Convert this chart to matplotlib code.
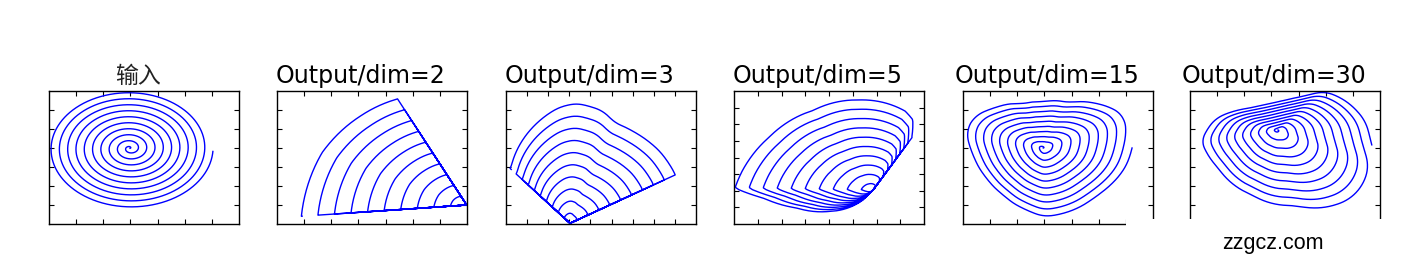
import numpy as np
import matplotlib
matplotlib.use('Agg')
import matplotlib.pyplot as plt
from matplotlib.patches import Rectangle

plt.rcParams['font.family'] = ['DejaVu Sans', 'Noto Sans CJK SC']

# panel titles and tick intervals (x, y)
titles = ['输入', 'Output/dim=2', 'Output/dim=3', 'Output/dim=5', 'Output/dim=15', 'Output/dim=30']
tick_steps = [(7, 7), (7, 7), (9, 7), (8, 8), (7, 7), (7, 7)]

# number of spiral turns (same trajectory fed to every net)
turns = 10

# all shapes below are read off the picture, in axes pixels (190 x 133)
# input spiral: centre, radii, end angle
input_centre = (81, 75.7)
input_radii = (83, 60)
input_end = -3

# dim=2: folded into a wedge around an apex
dim2_apex = (189.7, 19)
dim2_wedge = (123.1, 183.9)
dim2_angles = [123.1, 140, 160, 183.9]
dim2_radii = [129, 140.5, 155, 166]
dim2_end = 190

# dim=3
dim3_apex = (64, 0.7)
dim3_wedge = (24.7, 137.5)
dim3_angles = [24.7, 38.5, 55.4, 66, 74, 86.8, 95, 100, 112, 125, 137.5]
dim3_radii = [120.2, 118.7, 114.5, 112.6, 119.5, 122.1, 118.3, 114.1, 103.4, 91.8, 80.7]
dim3_end = 150

# dim=5
dim5_apex = (139.3, 34.3)
dim5_wedge = (53.4, 225)
dim5_angles = [53.4, 60.6, 68, 99.6, 127.4, 153.4, 171.9, 179.3, 184.3, 193.4, 206.5, 225]
dim5_radii = [67.7, 84.3, 88.8, 94.4, 102.5, 119.3, 134.6, 140.3, 111.8, 79.6, 48.8, 14]
dim5_end = 230

# dim=15: rounded triangle spiral
dim15_centre = (80.3, 76)
dim15_angles = [0, 10, 21.4, 29.3, 37.4, 60, 90, 115, 141.8, 155.1, 167.7, 185.5,
                207.9, 229.4, 254.9, 271.4, 281.2, 295.9, 315, 327.7, 340.8, 351.1]
dim15_radii = [88.3, 93, 95.7, 88.4, 78.3, 56.6, 49.7, 51.9, 67.7, 79.9, 82.9, 73.9,
               66.9, 63.8, 65.8, 70.1, 69.5, 69.9, 71.6, 75.6, 81.6, 86.2]
dim15_end = 0

# dim=30: tilted triangle spiral, runs clockwise
dim30_centre = (88, 94)
dim30_angles = [5.7, 21, 39, 50, 60, 75, 90, 105, 120, 135, 145, 156.5, 170.7, 188.4,
                212.5, 247.9, 282.7, 301.3, 315.3, 326, 337.2, 351]
dim30_radii = [87.8, 75.9, 61.1, 45.3, 37.7, 31.5, 28.8, 28.3, 29.7, 33.8, 38.9, 49.2, 67.2, 81.7,
               75.5, 75.2, 84, 99, 108.8, 111.2, 108.4, 94.1]
dim30_end = -9

AX_W, AX_H = 190, 133


def spiral_param(end_deg, direction=1, n=8000):
    t = np.linspace(0, 1, n)
    theta = end_deg - direction * 360 * turns * (1 - t)
    return t, theta


def radius_lookup(angles, radii, window=1):
    grid = np.arange(360.0)
    r = np.interp(grid, angles, radii, period=360)
    if window > 1:
        k = np.ones(window) / window
        padded = np.concatenate([r[-window:], r, r[:window]])
        r = np.convolve(padded, k, mode='same')[window:-window]
    return lambda th: np.interp(th % 360, grid, r, period=360)


def ellipse_curve(centre, radii, end_deg):
    t, th = spiral_param(end_deg)
    rad = np.deg2rad(th)
    return centre[0] + t * radii[0] * np.cos(rad), centre[1] + t * radii[1] * np.sin(rad)


def profile_curve(centre, angles, radii, end_deg, direction=1, window=1):
    t, th = spiral_param(end_deg, direction)
    r = t * radius_lookup(angles, radii, window)(th)
    rad = np.deg2rad(th)
    return centre[0] + r * np.cos(rad), centre[1] + r * np.sin(rad)


def folded_curve(apex, wedge, angles, radii, end_deg, direction=1, window=1):
    # points outside the wedge get projected onto its two edges (relu-like fold)
    t, th = spiral_param(end_deg, direction)
    lo, hi = wedge
    th = th % 360
    span = (hi - lo) % 360
    rel = (th - lo) % 360
    inside = rel <= span
    d_hi = rel - span
    d_lo = 360 - rel
    to_hi = (~inside) & (d_hi < d_lo)
    to_lo = (~inside) & (~to_hi)
    ang = np.where(inside, th, np.where(to_hi, hi, lo))
    scale = np.ones_like(t)
    scale[to_hi] = np.clip(np.cos(np.deg2rad(d_hi[to_hi])), 0, None)
    scale[to_lo] = np.clip(np.cos(np.deg2rad(d_lo[to_lo])), 0, None)
    r = t * scale * radius_lookup(angles, radii, window)(ang)
    rad = np.deg2rad(ang)
    return apex[0] + r * np.cos(rad), apex[1] + r * np.sin(rad)


curves = [
    ellipse_curve(input_centre, input_radii, input_end),
    folded_curve(dim2_apex, dim2_wedge, dim2_angles, dim2_radii, dim2_end),
    folded_curve(dim3_apex, dim3_wedge, dim3_angles, dim3_radii, dim3_end, window=7),
    folded_curve(dim5_apex, dim5_wedge, dim5_angles, dim5_radii, dim5_end),
    profile_curve(dim15_centre, dim15_angles, dim15_radii, dim15_end, window=15),
    profile_curve(dim30_centre, dim30_angles, dim30_radii, dim30_end, direction=-1, window=11),
]

fig = plt.figure(figsize=(14.23, 2.56), dpi=100)
lefts = [49, 277, 506, 734, 963, 1190]
for i, (x, y) in enumerate(curves):
    ax = fig.add_axes([lefts[i] / 1423, 32 / 256, AX_W / 1423, AX_H / 256])
    ax.plot(x, y, color='#0000ff', lw=1.0)
    ax.set_xlim(0, AX_W)
    ax.set_ylim(0, AX_H)
    nx, ny = tick_steps[i]
    ax.set_xticks(np.linspace(0, AX_W, nx + 1)[1:-1])
    ax.set_yticks(np.linspace(0, AX_H, ny + 1)[1:-1])
    ax.tick_params(direction='in', top=True, right=True, length=3.5, width=0.8,
                   labelbottom=False, labelleft=False)
    for sp in ax.spines.values():
        sp.set_linewidth(1.0)
    if i == 0:
        ax.set_title(titles[i], fontsize=16.5, x=0.47, color='#222222',
                     family=['Noto Sans CJK SC', 'DejaVu Sans'])
    else:
        ax.set_title(titles[i], fontsize=17, x=0.44)

# watermark box covering the lower right corner
fig.add_artist(Rectangle((1126 / 1423, 0), 1, 37 / 256, transform=fig.transFigure,
                         facecolor='white', edgecolor='none', zorder=10))
fig.text(1273 / 1423, 1 - 244 / 256, 'zzgcz.com', ha='center', va='center',
         fontsize=15.5, family='Liberation Sans', zorder=11)

fig.savefig('out.png', dpi=100)
